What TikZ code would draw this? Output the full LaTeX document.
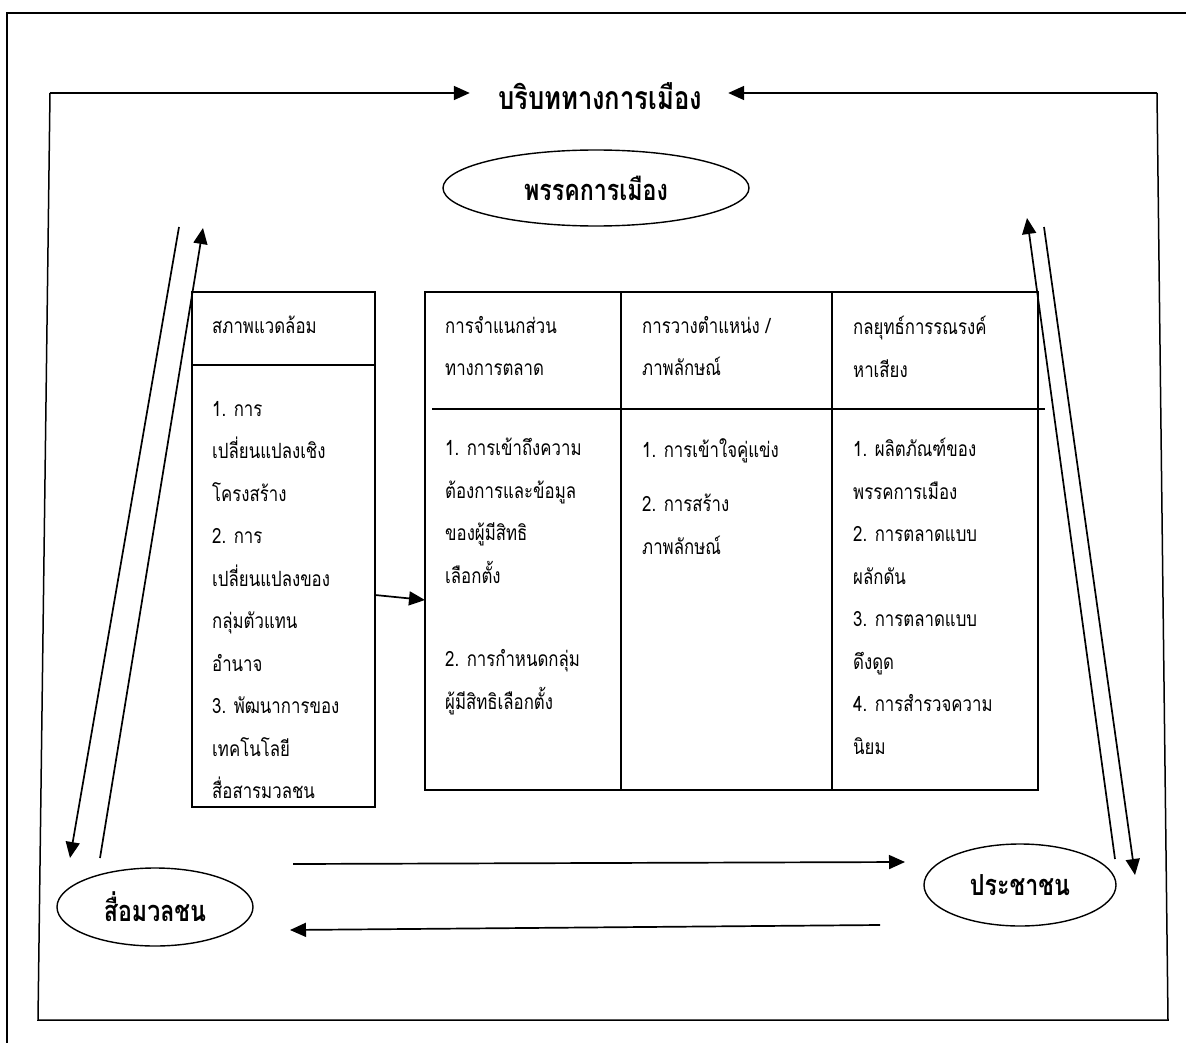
\documentclass[tikz,border=0pt]{standalone}
\usepackage{fontspec}
\newfontfamily\thai[Script=Thai,FakeStretch=0.8]{Loma}
\usetikzlibrary{arrows.meta,shapes.geometric}
\tikzset{
  frame/.style={line width=1.5pt},
  arr/.style={line width=1.7pt,-{Triangle[length=16pt,width=14pt]}},
  bubble/.style={ellipse,draw,line width=1.4pt,inner sep=0pt,font=\thai\bfseries\fontsize{29}{32}\selectfont},
  cell/.style={anchor=north west,inner sep=0pt,align=left,font=\thai\fontsize{21}{42.5}\selectfont},
  grid/.style={line width=1.6pt}
}
\begin{document}
\begin{tikzpicture}[x=1pt,y=-1pt]
\useasboundingbox (0,0) rectangle (1186,1043);

% page frame (top and left edges)
\draw[frame] (1186,13) -- (7,13) -- (7,1043);

% political context title and enclosing frame
\node[font=\thai\bfseries\fontsize{32}{36}\selectfont,inner sep=0pt] (ctx) at (600,96) {บริบททางการเมือง};
\coordinate (tl) at (50,93);
\coordinate (tr) at (1157,93);
\coordinate (bl) at (38,1020);
\coordinate (br) at (1168,1020);
\draw[frame] (tr) -- (br) -- (bl) -- (tl);
\draw[arr] (tl) -- ([xshift=-28pt]ctx.west |- tl);
\draw[arr] (tr) -- ([xshift=26pt]ctx.east |- tr);

% actors
\node[bubble,minimum width=306pt,minimum height=76pt] (party) at (596,188) {พรรคการเมือง};
\node[bubble,minimum width=196pt,minimum height=78pt] (media) at (155,907) {สื่อมวลชน};
\node[bubble,minimum width=192pt,minimum height=82pt] (people) at (1020,885) {ประชาชน};

% media <-> party
\coordinate (ld1) at (179,227);
\coordinate (ld2) at (70,858);
\coordinate (lu1) at (100,858);
\coordinate (lu2) at (203,228);
\draw[arr] (ld1) -- (ld2);
\draw[arr] (lu1) -- (lu2);

% party <-> people
\coordinate (ru1) at (1115,859);
\coordinate (ru2) at (1027,218);
\coordinate (rd1) at (1044,227);
\coordinate (rd2) at (1135,875);
\draw[arr] (ru1) -- (ru2);
\draw[arr] (rd1) -- (rd2);

% media <-> people
\coordinate (mp1) at (293,864);
\coordinate (mp2) at (905,862);
\coordinate (pm1) at (880,925);
\coordinate (pm2) at (290,930);
\draw[arr] (mp1) -- (mp2);
\draw[arr] (pm1) -- (pm2);

% environment box
\draw[grid] (192,292) rectangle (375,807);
\draw[grid] (192,365) -- (375,365);
\node[cell] (envh) at (212,316) {สภาพแวดล้อม};
\node[cell] (envb) at (212,401) {1. การ\\เปลี่ยนแปลงเชิง\\โครงสร้าง\\2. การ\\เปลี่ยนแปลงของ\\กลุ่มตัวแทน\\อำนาจ\\3. พัฒนาการของ\\เทคโนโลยี\\สื่อสารมวลชน};

% marketing table
\draw[grid] (425,292) rectangle (1038,790);
\draw[grid] (621,292) -- (621,790);
\draw[grid] (832,292) -- (832,790);
\draw[grid] (432,409) -- (1045,409);
\node[cell] (h1) at (445,316) {การจำแนกส่วน\\ทางการตลาด};
\node[cell] (h2) at (642,316) {การวางตำแหน่ง /\\ภาพลักษณ์};
\node[cell] (h3) at (853,316) {กลยุทธ์การรณรงค์\\หาเสียง};
\node[cell] (b1) at (445,438) {1. การเข้าถึงความ\\ต้องการและข้อมูล\\ของผู้มีสิทธิ\\เลือกตั้ง\\[41pt]2. การกำหนดกลุ่ม\\ผู้มีสิทธิเลือกตั้ง};
\node[cell] (b2a) at (642,438) {1. การเข้าใจคู่แข่ง};
\node[cell] (b2b) at (642,494) {2. การสร้าง\\ภาพลักษณ์};
\node[cell] (b3) at (853,438) {1. ผลิตภัณฑ์ของ\\พรรคการเมือง\\2. การตลาดแบบ\\ผลักดัน\\3. การตลาดแบบ\\ดึงดูด\\4. การสำรวจความ\\นิยม};

% environment feeds the table
\coordinate (envout) at (375,595);
\coordinate (tabin) at (425,600);
\draw[arr] (envout) -- (tabin);
\end{tikzpicture}
\end{document}
